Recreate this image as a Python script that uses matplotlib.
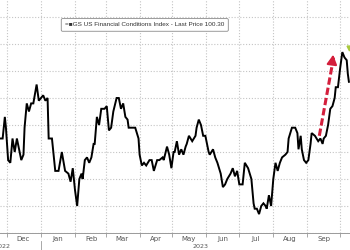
import matplotlib
matplotlib.use("Agg")
import matplotlib.pyplot as plt
import matplotlib.dates as mdates
import matplotlib.transforms as mtransforms
import pandas as pd

# GS US Financial Conditions Index
dates = [
    "2022-11-25", "2022-11-27", "2022-11-29", "2022-11-30", "2022-12-02", "2022-12-04", "2022-12-06",
    "2022-12-08", "2022-12-10", "2022-12-11", "2022-12-14", "2022-12-16", "2022-12-17", "2022-12-19",
    "2022-12-21", "2022-12-23", "2022-12-25", "2022-12-28", "2022-12-30",
    "2023-01-03", "2023-01-05", "2023-01-07", "2023-01-08", "2023-01-11", "2023-01-14", "2023-01-17",
    "2023-01-20", "2023-01-23", "2023-01-26", "2023-01-28", "2023-01-30",
    "2023-02-01", "2023-02-03", "2023-02-05", "2023-02-07", "2023-02-08", "2023-02-10", "2023-02-12",
    "2023-02-14", "2023-02-16", "2023-02-18", "2023-02-19", "2023-02-21", "2023-02-23", "2023-02-25",
    "2023-02-28",
    "2023-03-02", "2023-03-04", "2023-03-06", "2023-03-08", "2023-03-11", "2023-03-13", "2023-03-15",
    "2023-03-17", "2023-03-19", "2023-03-21", "2023-03-22", "2023-03-25", "2023-03-28", "2023-03-31",
    "2023-04-01", "2023-04-03", "2023-04-05", "2023-04-07", "2023-04-10", "2023-04-12", "2023-04-14",
    "2023-04-17", "2023-04-19", "2023-04-22", "2023-04-23", "2023-04-26", "2023-04-28", "2023-04-30",
    "2023-05-02", "2023-05-03", "2023-05-05", "2023-05-07", "2023-05-09", "2023-05-11", "2023-05-13",
    "2023-05-14", "2023-05-16", "2023-05-19", "2023-05-22", "2023-05-23", "2023-05-25", "2023-05-27",
    "2023-05-29", "2023-05-31",
    "2023-06-03", "2023-06-04", "2023-06-07", "2023-06-09", "2023-06-11", "2023-06-14", "2023-06-16",
    "2023-06-18", "2023-06-20", "2023-06-23", "2023-06-25", "2023-06-27", "2023-06-29",
    "2023-07-01", "2023-07-04", "2023-07-06", "2023-07-09", "2023-07-12", "2023-07-14", "2023-07-15",
    "2023-07-17", "2023-07-19", "2023-07-21", "2023-07-23", "2023-07-25", "2023-07-26", "2023-07-28",
    "2023-07-30",
    "2023-08-01", "2023-08-03", "2023-08-05", "2023-08-07", "2023-08-09", "2023-08-12", "2023-08-14",
    "2023-08-15", "2023-08-18", "2023-08-21", "2023-08-23", "2023-08-24", "2023-08-26", "2023-08-27",
    "2023-08-29", "2023-08-31",
    "2023-09-02", "2023-09-04", "2023-09-05", "2023-09-08", "2023-09-11", "2023-09-13", "2023-09-15",
    "2023-09-16", "2023-09-18", "2023-09-20", "2023-09-22", "2023-09-24", "2023-09-26", "2023-09-27",
    "2023-09-29",
    "2023-10-01", "2023-10-03", "2023-10-05", "2023-10-07", "2023-10-08", "2023-10-09",
]
fci = [
    99.95, 99.95, 100.03, 99.99, 99.87, 99.86, 99.95, 99.90, 99.95, 99.93, 99.87, 99.89, 99.99, 100.08,
    100.05, 100.08, 100.08, 100.15, 100.09,
    100.11, 100.09, 100.10, 99.95, 99.95, 99.83, 99.83, 99.90, 99.83, 99.82, 99.79, 99.84,
    99.76, 99.70, 99.80, 99.82, 99.80, 99.87, 99.88, 99.86, 99.88, 99.93, 99.93, 100.03, 100.00, 100.06,
    100.06,
    100.07, 99.98, 99.99, 100.05, 100.10, 100.10, 100.06, 100.08, 100.03, 100.02, 99.99, 99.99, 99.99, 99.95,
    99.89, 99.85, 99.86, 99.85, 99.87, 99.87, 99.83, 99.87, 99.87, 99.88, 99.87, 99.92, 99.89, 99.84,
    99.90, 99.90, 99.94, 99.89, 99.91, 99.89, 99.92, 99.93, 99.96, 99.94, 99.96, 99.99, 100.02, 100.00,
    99.96, 99.96,
    99.90, 99.89, 99.91, 99.88, 99.86, 99.82, 99.77, 99.78, 99.80, 99.82, 99.84, 99.81, 99.83,
    99.78, 99.78, 99.86, 99.84, 99.80, 99.71, 99.69, 99.69, 99.67, 99.70, 99.71, 99.70, 99.69, 99.74, 99.70,
    99.80, 99.86, 99.83, 99.86, 99.88, 99.89, 99.90, 99.95, 99.99, 99.99, 99.97, 99.91, 99.96, 99.91,
    99.87, 99.86,
    99.87, 99.93, 99.97, 99.96, 99.94, 99.95, 99.93, 99.95, 99.96, 100.00, 100.06, 100.07, 100.10, 100.14,
    100.14,
    100.21, 100.27, 100.25, 100.24, 100.19, 100.16,
]

legend_label = "GS US Financial Conditions Index - Last Price 100.30"
arrow_start = ("2023-09-12", 99.96)
arrow_end = ("2023-09-25", 100.27)

x = pd.to_datetime(dates)

fig = plt.figure(figsize=(3.5, 2.5), dpi=100)
ax = fig.add_axes([0, 17 / 250, 1, 233 / 250])

ax.plot(x, fci, color="black", lw=1.4, solid_joinstyle="miter")

# red dashed arrow showing the recent tightening
a0 = pd.Timestamp(arrow_start[0])
a1 = pd.Timestamp(arrow_end[0])
ax.plot([a0, a1], [arrow_start[1], arrow_end[1] - 0.02], color="#d41f3c", lw=2.2,
        linestyle=(0, (2.4, 1.0)), solid_capstyle="butt")
ax.annotate("", xy=(a1, arrow_end[1]), xytext=(a1 - pd.Timedelta(days=1.0), arrow_end[1] - 0.03),
            arrowprops=dict(arrowstyle="-|>,head_length=0.55,head_width=0.3", color="#d41f3c", lw=1.5))

# last price tag peeking in at the right edge
ax.plot([pd.Timestamp("2023-10-09")], [100.285], marker="v", color="#a8c83c", ms=3.5, clip_on=False)

ax.set_xlim(pd.Timestamp("2022-11-24 14:00"), pd.Timestamp("2023-10-10"))
ax.set_ylim(99.6, 99.6 + 233 / 270)

ax.xaxis.set_major_locator(mdates.MonthLocator())
ax.xaxis.set_major_formatter(plt.NullFormatter())
ax.xaxis.set_minor_locator(mdates.MonthLocator(bymonthday=16))
ax.xaxis.set_minor_formatter(mdates.DateFormatter("%b"))
ax.tick_params(axis="x", which="major", length=3, color="#9a9a9a", width=0.6)
ax.tick_params(axis="x", which="minor", length=0, labelsize=5, labelcolor="#555555", pad=2.5)
ax.set_yticks([99.6, 99.7, 99.8, 99.9, 100.0, 100.1, 100.2, 100.3, 100.4])
ax.tick_params(axis="y", left=False, labelleft=False)

ax.grid(True, which="major", color="#c4c4c4", lw=0.8, linestyle=(0, (1, 1.6)))
ax.set_axisbelow(True)
for side in ["top", "left", "right"]:
    ax.spines[side].set_visible(False)
ax.spines["bottom"].set_color("#9a9a9a")
ax.spines["bottom"].set_linewidth(0.7)

# year row below the month labels (2022 is cut at the left edge, as in the source)
trans = mtransforms.blended_transform_factory(ax.transData, ax.transAxes)
ax.text(pd.Timestamp("2022-11-27"), -0.058, "2022", transform=trans, ha="center", va="center",
        fontsize=4.6, color="#555555")
ax.text(pd.Timestamp("2023-05-27"), -0.058, "2023", transform=trans, ha="center", va="center",
        fontsize=4.6, color="#555555")
ax.plot([pd.Timestamp("2023-01-01")] * 2, [-0.035, -0.08], transform=trans, color="#9a9a9a",
        lw=0.6, clip_on=False)

ax.text(0.186, 0.893, "=\u25a0" + legend_label, transform=ax.transAxes, ha="left", va="center",
        fontsize=4.6, color="#333333", family="Liberation Sans",
        bbox=dict(boxstyle="round,pad=0.6,rounding_size=0.2", fc="white", ec="#8a8a8a", lw=0.6))

fig.savefig("out.png", dpi=100)
